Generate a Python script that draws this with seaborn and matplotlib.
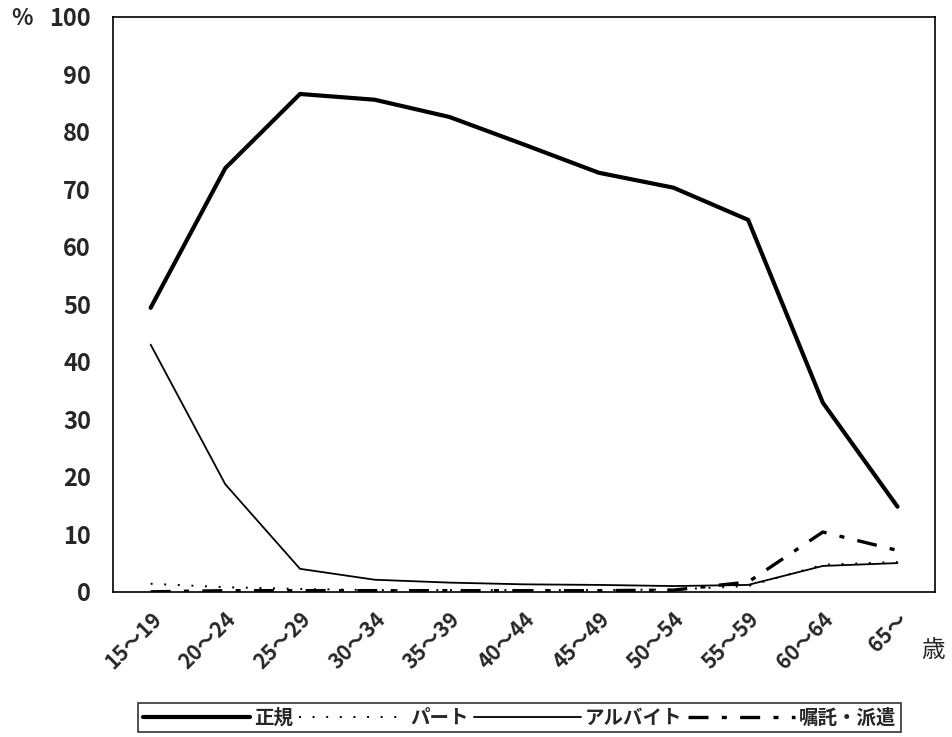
import numpy as np
import pandas as pd
import seaborn as sns
import matplotlib.pyplot as plt
from matplotlib.transforms import ScaledTranslation

ages = ["15～19", "20～24", "25～29", "30～34", "35～39", "40～44",
        "45～49", "50～54", "55～59", "60～64", "65～"]
seiki = [49.4, 73.7, 86.6, 85.6, 82.6, 77.8, 72.9, 70.3, 64.7, 32.9, 14.8]
part = [1.4, 0.8, 0.5, 0.3, 0.3, 0.3, 0.3, 0.4, 1.0, 4.7, 5.2]
arbeit = [43.0, 18.7, 4.0, 2.1, 1.6, 1.3, 1.2, 1.0, 1.2, 4.5, 5.0]
shokutaku = [0.0, 0.2, 0.2, 0.2, 0.2, 0.2, 0.2, 0.3, 1.7, 10.4, 7.2]

df = pd.DataFrame({"age": ages, "正規": seiki, "パート": part,
                   "アルバイト": arbeit, "嘱託・派遣": shokutaku})

sns.set_style("white")
plt.rcParams['font.family'] = ['Noto Sans CJK JP', 'DejaVu Sans']

fig = plt.figure(figsize=(9.52, 7.37), dpi=100)
ax = fig.add_axes([0.119, 0.197, 0.863, 0.780])

styles = {
    "正規": dict(lw=3.0, ls="-"),
    "パート": dict(lw=1.4, ls=(0, (1, 6))),
    "アルバイト": dict(lw=1.3, ls="-"),
    "嘱託・派遣": dict(lw=2.4, ls=(0, (6, 4, 1.5, 4))),
}
for col, st in styles.items():
    sns.lineplot(data=df, x="age", y=col, ax=ax, color="black",
                 linewidth=st["lw"], linestyle=st["ls"], label=col, sort=False)

ax.set_xlim(-0.5, len(ages) - 0.5)
ax.set_ylim(0, 100)
ax.set_yticks(np.arange(0, 101, 10))
ax.set_yticklabels([str(v) for v in range(0, 101, 10)], fontweight="bold")
ax.set_xticks(np.arange(0.5, len(ages) - 0.5, 1))
ax.set_xticklabels([])
ax.set_xticks(np.arange(len(ages)), minor=True)
ax.set_xticklabels(ages, minor=True, rotation=45, ha="right",
                   rotation_mode="anchor", fontsize=15, fontweight="bold")
shift = ScaledTranslation(-12 / 100, -4 / 100, fig.dpi_scale_trans)
for lab in ax.get_xticklabels(minor=True):
    lab.set_transform(lab.get_transform() + shift)
ax.tick_params(axis="x", which="major", direction="in", length=6, width=1)
ax.tick_params(axis="x", which="minor", length=0, pad=12)
ax.tick_params(axis="y", direction="in", length=6, width=1, labelsize=17, pad=16)
ax.set_xlabel("")
ax.set_ylabel("")
for s in ax.spines.values():
    s.set_color("black")
    s.set_linewidth(1.2)

fig.text(0.012, 0.975, "%", fontsize=16, fontweight="bold", va="center")
fig.text(0.968, 0.118, "歳", fontsize=17, va="center")

leg = ax.legend(loc="center", bbox_to_anchor=(0.495, -0.219), ncol=4,
                prop={"size": 14, "weight": "bold"}, frameon=True,
                fancybox=False, edgecolor="black",
                handlelength=5.5, handletextpad=0.2, columnspacing=0.3,
                borderpad=0.25)
leg.get_frame().set_linewidth(1.2)

fig.savefig("out.png", dpi=100)
